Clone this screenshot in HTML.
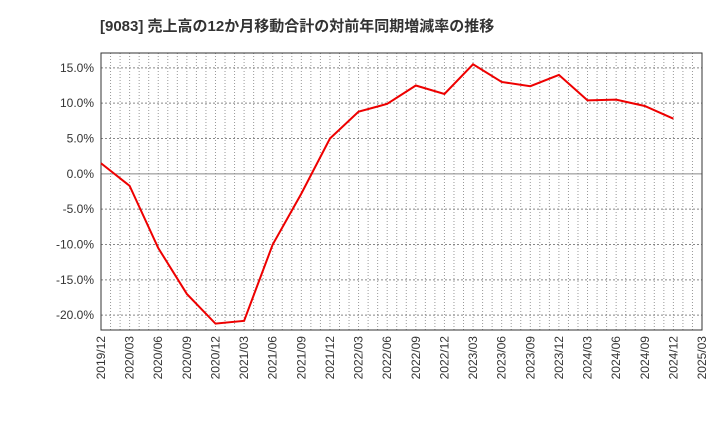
<!DOCTYPE html>
<html><head><meta charset="utf-8"><style>
body{margin:0;background:#fff;font-family:"Liberation Sans","Noto Sans CJK JP",sans-serif;}
</style></head><body>
<svg id="c" width="720" height="440" xmlns="http://www.w3.org/2000/svg">
<text x="100" y="31" font-size="15" font-weight="bold" fill="#333" font-family="Liberation Sans, Noto Sans CJK JP, sans-serif">[9083]  売上高の12か月移動合計の対前年同期増減率の推移</text>
</svg>
<script>
const categories=["2019/12","2020/03","2020/06","2020/09","2020/12","2021/03","2021/06","2021/09","2021/12","2022/03","2022/06","2022/09","2022/12","2023/03","2023/06","2023/09","2023/12","2024/03","2024/06","2024/09","2024/12"];
const values=[1.5,-1.7,-10.5,-17,-21.2,-20.8,-10,-2.8,5,8.8,9.9,12.5,11.3,15.5,13,12.4,14,10.4,10.5,9.6,7.8];
const xLabels=["2019/12","2020/03","2020/06","2020/09","2020/12","2021/03","2021/06","2021/09","2021/12","2022/03","2022/06","2022/09","2022/12","2023/03","2023/06","2023/09","2023/12","2024/03","2024/06","2024/09","2024/12","2025/03"];
const yTicks=[15,10,5,0,-5,-10,-15,-20];
const svg=document.getElementById('c');const NS='http://www.w3.org/2000/svg';
const L=101,R=702,T=53,B=330,yMax=17.1,yMin=-22.1;
const x=i=>L+(R-L)*i/(xLabels.length-1);
const y=v=>T+(yMax-v)/(yMax-yMin)*(B-T);
function mk(t,a){const e=document.createElementNS(NS,t);for(const k in a)e.setAttribute(k,a[k]);svg.appendChild(e);return e;}
for(let m=1;m<(xLabels.length-1)*3;m++){const xx=L+(R-L)*m/((xLabels.length-1)*3);
const g=mk('line',{x1:xx,x2:xx,y1:T,y2:B,stroke:'#999','stroke-width':1,'stroke-dasharray':'1,2'});

}
yTicks.forEach(v=>{const yy=y(v);
const g=mk('line',{x1:L,x2:R,y1:yy,y2:yy,stroke:v===0?'#888':'#888','stroke-width':1,'stroke-dasharray':v===0?'':'2,2'});


const t=mk('text',{x:L-7,y:yy+4,'text-anchor':'end','font-size':12,fill:'#333'});t.textContent=v.toFixed(1)+'%';

});
xLabels.forEach((s,i)=>{const xx=x(i);
const t=mk('text',{x:0,y:0,'text-anchor':'end','font-size':12,fill:'#333',transform:`translate(${xx+4},${B+6}) rotate(-90)`});t.textContent=s;

});
const f=mk('rect',{x:L,y:T,width:R-L,height:B-T,fill:'none',stroke:'#333','stroke-width':1});


const p=mk('polyline',{points:values.map((v,i)=>x(i)+','+y(v)).join(' '),fill:'none',stroke:'#e00','stroke-width':2});


</script>
</body></html>
